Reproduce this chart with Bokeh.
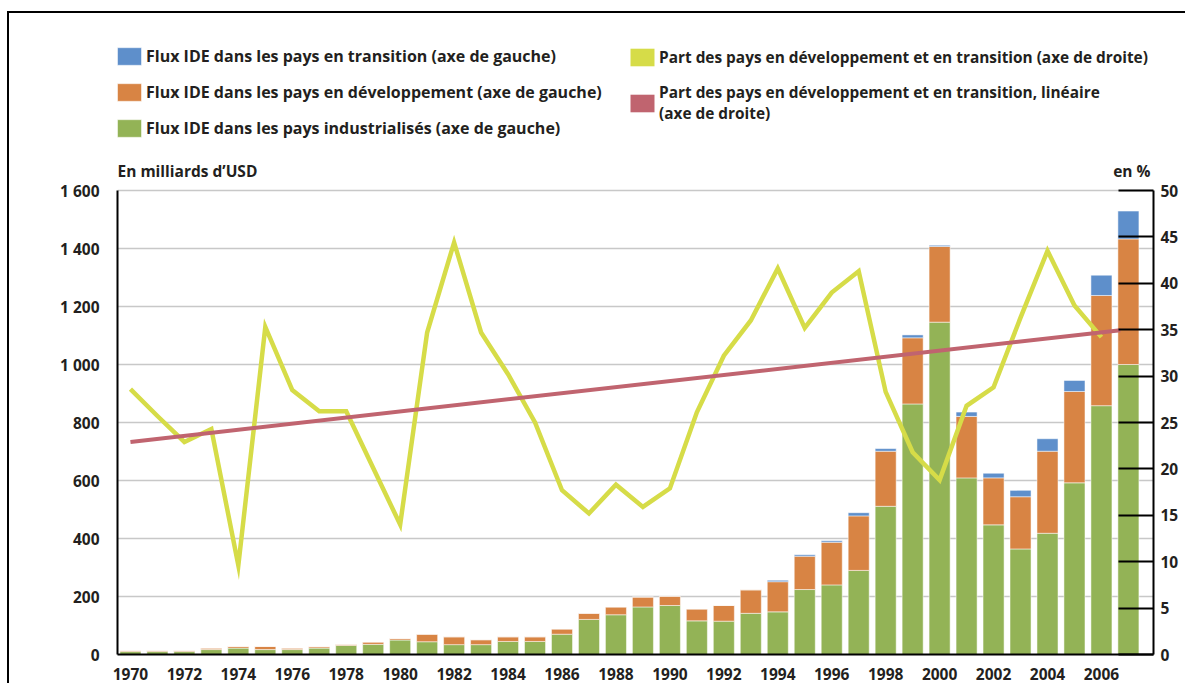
from bokeh.plotting import figure
from bokeh.models import (Range1d, LinearAxis, FixedTicker, Legend, LegendItem,
                          Label, ColumnDataSource)
from bokeh.embed import file_html
from bokeh.resources import INLINE

# ---------------- data ----------------
years = list(range(1970, 2008))
industrialises = [10, 10, 10, 17, 22, 17, 17, 22, 31, 35,
                  50, 44, 34, 34, 45, 45, 70, 121, 137, 164,
                  169, 116, 115, 142, 147, 224, 240, 290, 511, 864,
                  1146, 609, 447, 364, 418, 592, 858, 1000]
developpement = [4, 4, 4, 5, 6, 11, 5, 5, 4, 8,
                 5, 26, 27, 17, 16, 16, 18, 21, 27, 34,
                 32, 41, 54, 81, 104, 115, 147, 188, 190, 228,
                 261, 212, 162, 180, 283, 315, 380, 433]
transition = [0] * 24 + [5, 5, 5, 11, 9, 10, 4, 15, 16, 22, 43, 38, 70, 96]

share_years = list(range(1970, 2007))
share = [28.6, 25.7, 22.9, 24.3, 9.6, 35.3, 28.5, 26.2, 26.2, 20.1,
         14.0, 34.7, 44.4, 34.7, 30.2, 25.0, 17.7, 15.2, 18.3, 15.9,
         17.9, 26.1, 32.2, 36.0, 41.6, 35.2, 39.0, 41.3, 28.3, 21.8,
         18.8, 26.8, 28.8, 36.3, 43.5, 37.6, 34.2]

trend_years = [1970, 2006.7]
trend = [22.9, 34.95]

left_ticks = [0, 200, 400, 600, 800, 1000, 1200, 1400, 1600]
left_tick_labels = ["0", "200", "400", "600", "800", "1 000", "1 200", "1 400", "1 600"]
right_ticks = [0, 5, 10, 15, 20, 25, 30, 35, 40, 45, 50]
year_ticks = list(range(1970, 2007, 2))

labels_legend_left = [
    "Flux IDE dans les pays en transition (axe de gauche)",
    "Flux IDE dans les pays en développement (axe de gauche)",
    "Flux IDE dans les pays industrialisés (axe de gauche)",
]
labels_legend_right = [
    "Part des pays en développement et en transition (axe de droite)",
    "Part des pays en développement et en transition, linéaire\n(axe de droite)",
]

# ---------------- styles ----------------
C_GREEN = "#93b356"
C_ORANGE = "#d88444"
C_BLUE = "#5e8fcb"
C_YELLOW = "#d6dc48"
C_PINK = "#c0646f"
TXT = "#231f20"
FONT = "Open Sans"

# the frame reaches the top of the canvas so that the legend (drawn inside it)
# is not clipped; axes are bounded to the real value ranges.
FRAME_H = 641          # px, from canvas top to x axis
DATA_H = 464           # px used by 0..1600 / 0..50
Y_TOP = 1600 * FRAME_H / DATA_H
P_TOP = 50 * FRAME_H / DATA_H

p = figure(width=1178, height=672, output_backend="svg", toolbar_location=None,
           title=None,
           x_range=Range1d(1969.52, 2007.93), y_range=Range1d(0, Y_TOP),
           min_border_left=108, min_border_top=0, min_border_right=34,
           min_border_bottom=31)
p.styles = {"border-top": "2px solid #000", "border-left": "2px solid #000",
            "margin-top": "11px", "margin-left": "7px"}
p.outline_line_color = None
p.background_fill_color = "white"
p.border_fill_color = "white"
p.extra_y_ranges = {"pct": Range1d(0, P_TOP)}

src = ColumnDataSource(dict(years=years, ind=industrialises,
                            dev=developpement, tr=transition))
bars = p.vbar_stack(["ind", "dev", "tr"], x="years", width=0.78, source=src,
                    color=[C_GREEN, C_ORANGE, C_BLUE],
                    line_color="white", line_alpha=0.5, line_width=1)

share_src = ColumnDataSource(dict(years=share_years, share=share))
yel = p.line("years", "share", source=share_src, y_range_name="pct",
             line_color=C_YELLOW, line_width=4.5, line_join="miter")
trend_src = ColumnDataSource(dict(years=trend_years, trend=trend))
pink = p.line("years", "trend", source=trend_src, y_range_name="pct",
              line_color=C_PINK, line_width=4)

# square legend swatches for the two lines (hidden renderers: shown only in legend)
yel_sw = p.vbar(x="years", top="share", width=0.78, source=share_src,
                fill_color=C_YELLOW, line_color=None, y_range_name="pct",
                visible=False)
pink_sw = p.vbar(x="years", top="trend", width=0.78, source=trend_src,
                 fill_color=C_PINK, line_color=None, y_range_name="pct",
                 visible=False)

# ---------------- axes ----------------
xa = p.xaxis[0]
xa.ticker = FixedTicker(ticks=year_ticks)
ya = p.yaxis[0]
ya.ticker = FixedTicker(ticks=left_ticks)
ya.major_label_overrides = {t: l for t, l in zip(left_ticks, left_tick_labels)}
ya.bounds = (0, 1600)

ra = LinearAxis(y_range_name="pct", ticker=FixedTicker(ticks=right_ticks),
                bounds=(0, 50))
p.add_layout(ra, "right")

for ax in (xa, ya, ra):
    ax.axis_line_color = "black"
    ax.axis_line_width = 2
    ax.major_label_text_font = FONT
    ax.major_label_text_font_style = "bold"
    ax.major_label_text_font_size = "15.5px"
    ax.major_label_text_color = TXT
    ax.minor_tick_line_color = None
xa.major_tick_line_color = None
ya.major_tick_line_color = None
xa.major_label_standoff = 7
ya.major_label_standoff = 12
ra.major_tick_in = 35
ra.major_tick_out = 0
ra.major_tick_line_width = 2
ra.major_tick_line_color = "black"
ra.major_label_standoff = 7

p.xgrid.grid_line_color = None
p.ygrid.grid_line_color = "#c8c8c8"
p.ygrid.grid_line_width = 1.5
p.ygrid.ticker = FixedTicker(ticks=left_ticks)

# ---------------- legends ----------------
def style_legend(lg, size):
    lg.padding = 0
    lg.margin = 0
    lg.border_line_color = None
    lg.background_fill_alpha = 0
    lg.glyph_width = 30
    lg.glyph_height = 22
    lg.label_height = 20
    lg.spacing = 14
    lg.label_standoff = 2
    lg.label_text_font = FONT
    lg.label_text_font_style = "bold"
    lg.label_text_font_size = size
    lg.label_text_color = TXT
    lg.label_text_line_height = 1.2
    lg.click_policy = "none"

leg1 = Legend(items=[
    LegendItem(label=labels_legend_left[0], renderers=[bars[2]]),
    LegendItem(label=labels_legend_left[1], renderers=[bars[1]]),
    LegendItem(label=labels_legend_left[2], renderers=[bars[0]]),
], location=(-3, 515))
style_legend(leg1, "16px")
p.add_layout(leg1, "center")

leg2 = Legend(items=[
    LegendItem(label=labels_legend_right[0], renderers=[yel_sw]),
    LegendItem(label=labels_legend_right[1], renderers=[pink_sw]),
], location=(510, 530))
style_legend(leg2, "15.4px")
p.add_layout(leg2, "center")

p.add_layout(Label(x=0, y=484, x_units="screen", y_units="screen",
                   text="En milliards d’USD", text_font=FONT, text_font_style="bold",
                   text_font_size="15.5px", text_color=TXT, text_baseline="middle"))
p.add_layout(Label(x=1033, y=484, x_units="screen", y_units="screen",
                   text="en %", text_font=FONT, text_font_style="bold",
                   text_font_size="15.5px", text_color=TXT, text_baseline="middle",
                   text_align="right"))

open("out.html", "w").write(file_html(p, INLINE))
